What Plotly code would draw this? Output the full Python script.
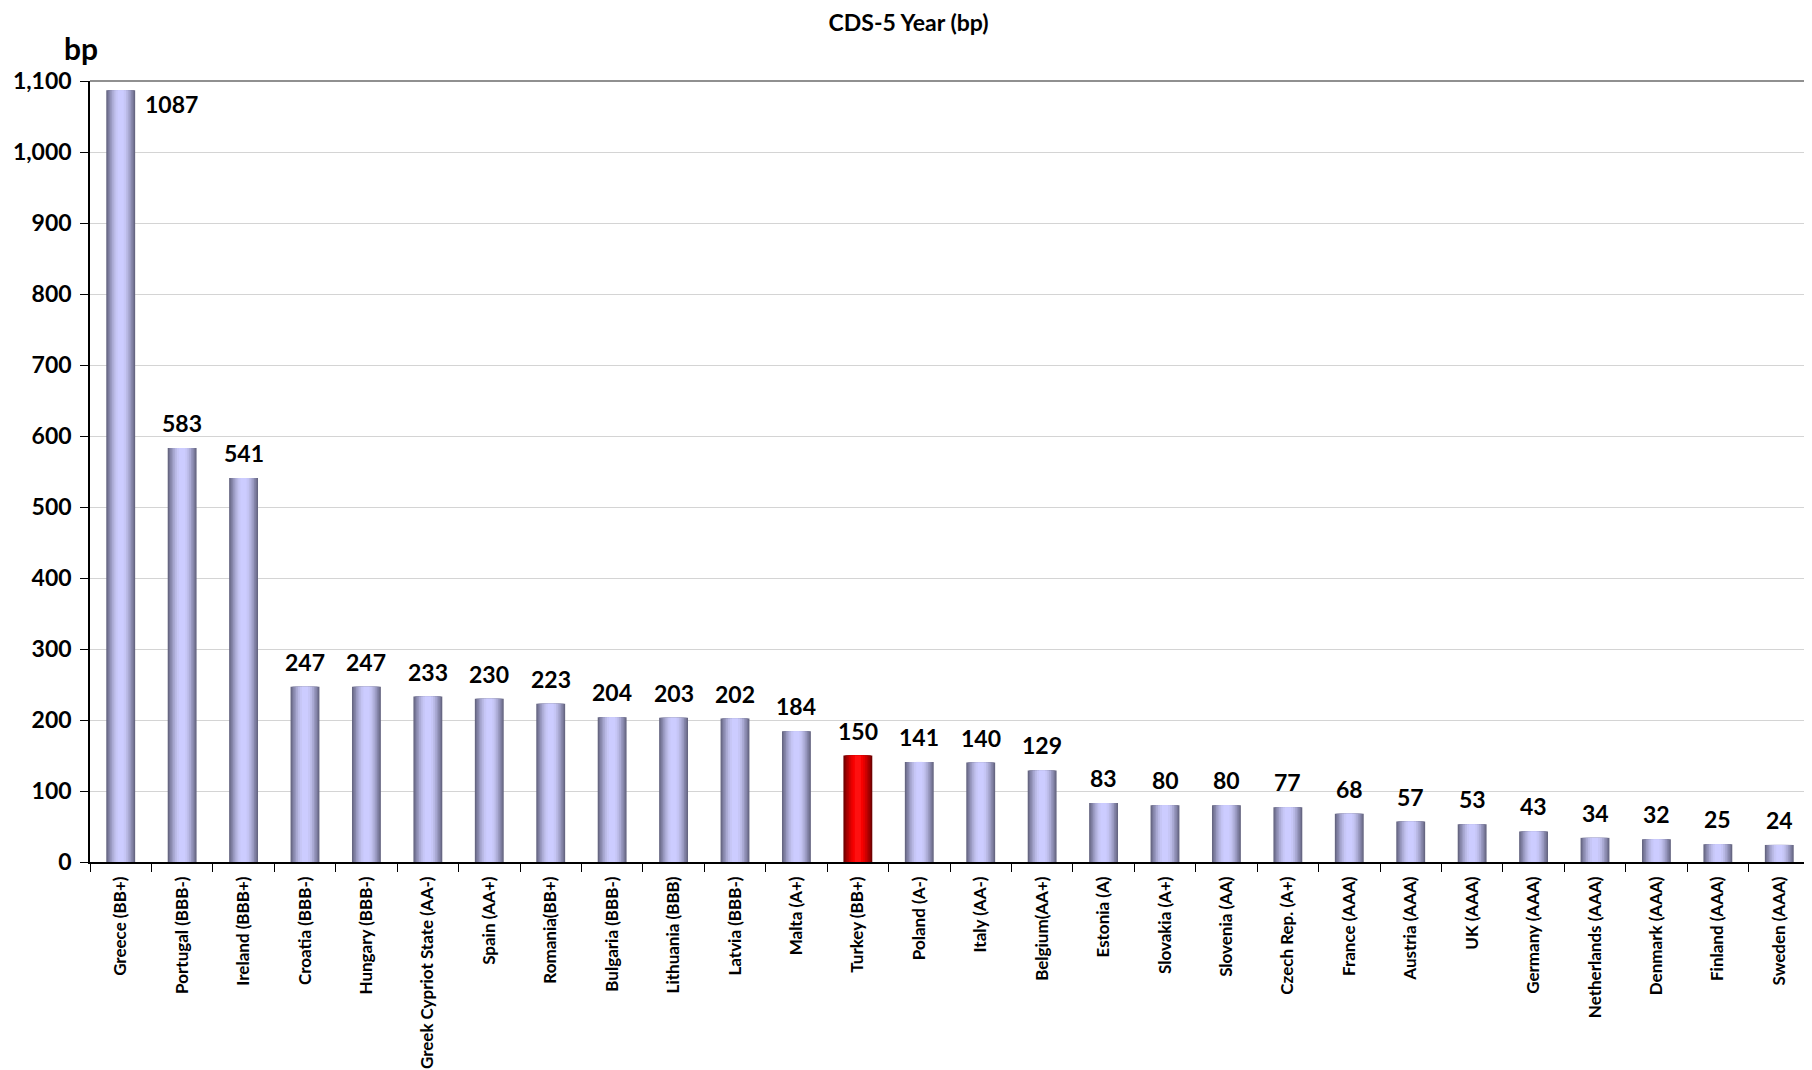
import plotly.graph_objects as go

countries = ["Greece (BB+)", "Portugal (BBB-)", "Ireland (BBB+)", "Croatia (BBB-)", "Hungary (BBB-)",
             "Greek Cypriot State (AA-)", "Spain (AA+)", "Romania(BB+)", "Bulgaria (BBB-)", "Lithuania (BBB)",
             "Latvia (BBB-)", "Malta (A+)", "Turkey (BB+)", "Poland (A-)", "Italy (AA-)", "Belgium(AA+)",
             "Estonia (A)", "Slovakia (A+)", "Slovenia (AA)", "Czech Rep. (A+)", "France (AAA)", "Austria (AAA)",
             "UK (AAA)", "Germany (AAA)", "Netherlands (AAA)", "Denmark (AAA)", "Finland (AAA)", "Sweden (AAA)"]
cds_bp = [1087, 583, 541, 247, 247, 233, 230, 223, 204, 203, 202, 184, 150, 141, 140, 129,
          83, 80, 80, 77, 68, 57, 53, 43, 34, 32, 25, 24]
highlight = "Turkey (BB+)"
y_ticks = [0, 100, 200, 300, 400, 500, 600, 700, 800, 900, 1000, 1100]

# gradient layers (outer -> inner): width fraction, normal color, highlight color
blue_ramp = ["#666682", "#767696", "#8686aa", "#9898bf", "#aaaad4", "#babae6", "#c6c6f6", "#ccccff"]
red_ramp = ["#700000", "#880000", "#a00000", "#b80000", "#d00000", "#e60000", "#f80000", "#ff1010"]
widths = [0.47, 0.43, 0.39, 0.34, 0.29, 0.23, 0.17, 0.10]

FONT = "Lato"
H = 1070

fig = go.Figure()
for w, cb, cr in zip(widths, blue_ramp, red_ramp):
    fig.add_trace(go.Bar(
        x=countries, y=cds_bp, width=w,
        marker=dict(color=[cr if c == highlight else cb for c in countries], line=dict(width=0)),
        hoverinfo="skip", showlegend=False))

annotations = []
for c, v in zip(countries, cds_bp):
    if v > 1000:
        annotations.append(dict(x=c, y=v, xref="x", yref="y", text=str(v), showarrow=False,
                                xanchor="left", yanchor="top", xshift=22, yshift=2,
                                font=dict(family=FONT, size=23, color="black", weight="bold")))
    else:
        annotations.append(dict(x=c, y=v, xref="x", yref="y", text=str(v), showarrow=False,
                                xanchor="center", yanchor="bottom", yshift=9,
                                font=dict(family=FONT, size=23, color="black", weight="bold")))
annotations.append(dict(text="bp", xref="paper", yref="paper", x=0, y=1.042, xshift=10,
                        xanchor="right", yanchor="middle", showarrow=False,
                        font=dict(family=FONT, size=30, color="black", weight="bold")))

fig.update_layout(
    width=1812, height=H,
    barmode="overlay",
    plot_bgcolor="white", paper_bgcolor="white",
    margin=dict(l=82, r=10, t=73, b=216),
    title=dict(text="CDS-5 Year (bp)", x=0.497, xanchor="center", y=1 - 15 / H, yanchor="middle",
               font=dict(family=FONT, size=23, color="black", weight="bold")),
    font=dict(family=FONT, color="black"),
    annotations=annotations,
)

fig.update_xaxes(
    type="category", tickangle=-90, tickson="boundaries", ticks="outside", ticklen=8, tickcolor="black",
    showline=True, linecolor="black", linewidth=1.5, mirror=False, ticklabelstandoff=6, automargin=False,
    tickfont=dict(family=FONT, size=17, color="black", weight="bold"),
    range=[-0.5, len(countries) - 0.5])
fig.update_yaxes(
    range=[0, 1100], tickvals=y_ticks, tickformat=",", ticks="outside", ticklen=8, tickcolor="black",
    showline=True, linecolor="black", linewidth=1.5, ticklabelstandoff=4, automargin=False,
    showgrid=True, gridcolor="#d4d4d4", gridwidth=1, zeroline=False,
    tickfont=dict(family=FONT, size=23, color="black", weight="bold"))

# top and right border
fig.add_shape(type="line", xref="paper", yref="paper", x0=0, x1=1, y0=1, y1=1,
              line=dict(color="#909090", width=2))
fig.add_shape(type="line", xref="paper", yref="paper", x0=1, x1=1, y0=0, y1=1,
              line=dict(color="#c0c0c0", width=1))

fig.write_html("out.html")
